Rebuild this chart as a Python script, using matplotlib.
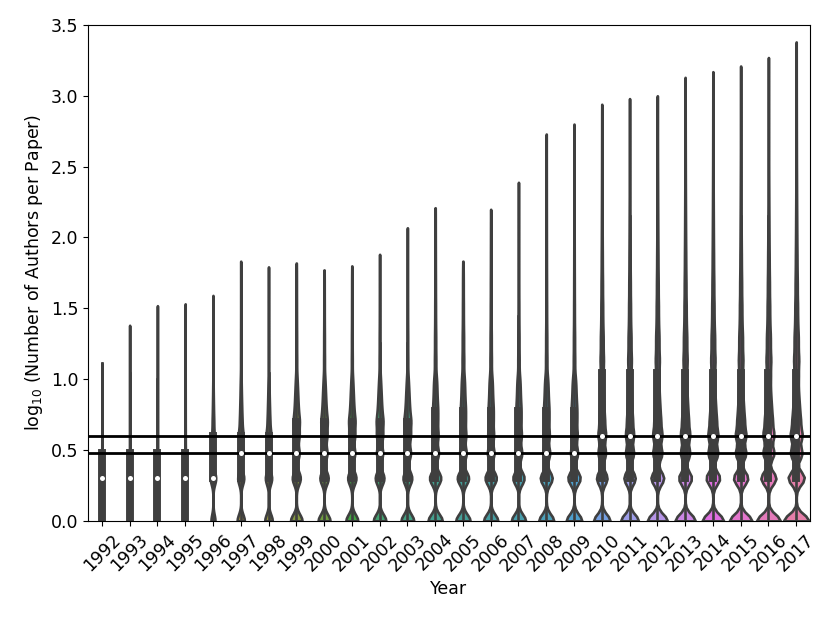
import colorsys
import numpy as np
import pandas as pd
import seaborn as sns
import matplotlib
matplotlib.use("Agg")
import matplotlib.pyplot as plt

years = [str(y) for y in range(1992, 2018)]

# number of papers per year
papers = [150, 220, 300, 380, 3000, 4000, 4150, 6360, 6550, 6550, 6870, 7000, 7830,
          7830, 7830, 7830, 8270, 8590, 9100, 9740, 11000, 11140, 11770, 12400,
          13050, 14000]

# largest author list seen in each year
max_authors = [13, 24, 33, 34, 39, 68, 62, 66, 59, 63, 76, 117, 162, 68, 158, 245,
               537, 631, 871, 955, 1000, 1349, 1479, 1622, 1862, 2399]

# share of papers with 1..10 authors, one row per period
share_92_95 = [.30, .25, .22, .10, .05, .03, .02, .01, .005, .005]
share_96 = [.22, .30, .18, .12, .07, .04, .025, .015, .01, .005]
share_97_98 = [.24, .20, .17, .145, .07, .045, .03, .02, .015, .01]
share_99_03 = [.245, .17, .12, .11, .11, .06, .04, .03, .02, .015]
share_04_09 = [.24, .19, .11, .09, .065, .06, .04, .03, .025, .02]
share_10_17 = [.22, .14, .10, .095, .06, .04, .028, .02, .015, .012]
period = ([share_92_95] * 4 + [share_96] + [share_97_98] * 2 + [share_99_03] * 5
          + [share_04_09] * 6 + [share_10_17] * 8)

# papers with more than 10 authors: author count and relative weight
tail_authors = [11, 13, 14, 16, 18, 20, 22, 25, 28, 32, 35, 40, 45, 50, 56, 63, 71, 79,
                89, 100, 112, 126, 141, 158, 178, 200, 224, 251, 282, 316, 355, 398,
                447, 501, 562, 631, 708, 794, 891, 1000, 1122, 1259, 1413, 1585, 1778,
                1995, 2239, 2512]
tail_weights = [1.0, .92, .85, .78, .72, .66, .61, .56, .52, .48, .44, .41, .38, .35,
                .32, .30, .28, .26, .24, .22, .20, .19, .17, .16, .15, .13, .12, .11,
                .10, .09, .08, .075, .07, .06, .055, .05, .045, .04, .035, .03, .027,
                .024, .021, .018, .015, .012, .01, .008]

frames = []
for i, yr in enumerate(years):
    n = papers[i]
    counts = np.round(np.array(period[i]) * n).astype(int)
    obs = np.repeat(np.log10(np.arange(1, 11)), counts)
    keep = np.array(tail_authors) < max_authors[i]
    w = np.array(tail_weights)[keep]
    tail_counts = np.round(w / w.sum() * (n - counts.sum())).astype(int)
    tail_obs = np.repeat(np.log10(np.array(tail_authors)[keep]), tail_counts)
    obs = np.concatenate([obs, tail_obs, [np.log10(max_authors[i])]])
    frames.append(pd.DataFrame({'Year': yr, 'logA': obs}))
df = pd.concat(frames, ignore_index=True)

plt.rcParams['font.size'] = 12.5
plt.rcParams['lines.linewidth'] = 1.9
fig, ax = plt.subplots(figsize=(8.3, 6.23), dpi=100)

# same kernel width (in log10 units) for every year
bw = lambda kde: 0.045 / np.std(kde.dataset)

pal = sns.color_palette("husl", len(years))
lum = min(colorsys.rgb_to_hls(*c)[1] for c in pal) * .6
line_gray = (lum, lum, lum)

# violin width scaled by the number of papers in that year
for i, yr in enumerate(years):
    sns.violinplot(data=df[df['Year'] == yr], x='Year', y='logA', order=years,
                   color=pal[i], linecolor=line_gray,
                   width=0.92 * papers[i] / max(papers), density_norm='width',
                   cut=0, bw_method=bw, inner='box',
                   inner_kws={'box_width': 5.7, 'whis_width': 1.9, 'marker': 'o',
                              'markersize': 3.6, 'markeredgewidth': 0},
                   linewidth=1.9, ax=ax)

ax.axhline(np.log10(3), color='k', lw=2)
ax.axhline(np.log10(4), color='k', lw=2)

# median dots sit above the reference lines
for ln in ax.lines:
    if ln.get_marker() == 'o':
        ln.set_zorder(3)

ax.set_ylim(0, 3.5)
ax.set_xlabel('Year')
ax.set_ylabel('log$_{10}$ (Number of Authors per Paper)')
plt.xticks(rotation=45)

plt.subplots_adjust(left=0.106, right=0.976, top=0.96, bottom=0.164)
plt.savefig('out.png')
